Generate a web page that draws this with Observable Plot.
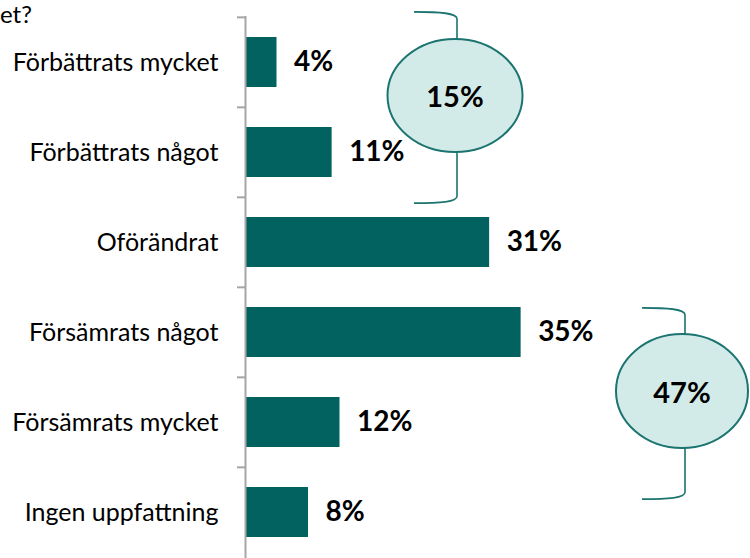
<!DOCTYPE html>
<html>
<head>
<meta charset="utf-8">
<script src="https://cdn.jsdelivr.net/npm/d3@7"></script>
<script src="https://cdn.jsdelivr.net/npm/@observablehq/plot@0.6"></script>
<style>
  html, body { margin: 0; padding: 0; background: #fff; }
  #chart svg { display: block; }
</style>
</head>
<body>
<div id="chart"></div>
<script>
const categories = ["Förbättrats mycket", "Förbättrats något", "Oförändrat", "Försämrats något", "Försämrats mycket", "Ingen uppfattning"];
const values = [4, 11, 31, 35, 12, 8];
const groupLabels = ["15%", "47%"];
const groupMembers = [["Förbättrats mycket", "Förbättrats något"], ["Försämrats något", "Försämrats mycket"]];
const titleTail = "et?";

const data = categories.map((c, i) => ({category: c, value: values[i]}));

const W = 750, H = 558, MT = 16;
const step = (H - MT) / categories.length;
const FONT = "Lato, 'Open Sans', sans-serif";

const plot = Plot.plot({
  width: W,
  height: H,
  marginLeft: 245,
  marginRight: 190,
  marginTop: MT,
  marginBottom: 0,
  style: {fontFamily: FONT, background: "#fff", color: "#000", overflow: "visible"},
  x: {domain: [0, 40], axis: null},
  y: {domain: categories, paddingInner: 0.45, paddingOuter: 0.225, label: null},
  marks: [
    Plot.barX(data, {x: "value", y: "category", fill: "#02625f"}),
    Plot.text(data, {x: "value", y: "category", text: d => d.value + "%", dx: 17, textAnchor: "start", fontWeight: "bold", fontSize: 28, fill: "#000"}),
    Plot.axisY({tickSize: 0, tickPadding: 27, fontSize: 25, fill: "#000", label: null}),
    Plot.axisY({tickSize: 8, text: null, dy: -step / 2, stroke: "#a6a6a6", strokeWidth: 2, label: null}),
    Plot.ruleX([0], {stroke: "#a6a6a6", strokeWidth: 2})
  ]
});

document.getElementById("chart").appendChild(plot);

// Annotations (brackets + ellipses), anchored to the band scale
const y = plot.scale("y");
const bw = y.bandwidth;
const svg = d3.select(plot);
const ann = svg.append("g");
const layout = [
  {bx: 457, hx: 414, topOff: -5, botOff: 6, cx: 455, cy: 95.5, rx: 67.5, ry: 56.5},
  {bx: 685, hx: 642, topOff: 21, botOff: 32, cx: 682, cy: 391, rx: 66, ry: 57}
];
const teal = "#1b7470";
groupMembers.forEach((members, i) => {
  const L = layout[i];
  const top = y.apply(members[0]) - (step - bw) / 2 + L.topOff;
  const bot = y.apply(members[members.length - 1]) + bw + (step - bw) / 2 + L.botOff;
  const eTop = L.cy - L.ry, eBot = L.cy + L.ry;
  ann.append("path")
    .attr("d", `M${L.hx},${top} C${L.hx + 26},${top} ${L.bx},${top + 1} ${L.bx},${top + 7} V${eTop}`)
    .attr("fill", "none").attr("stroke", teal).attr("stroke-width", 1.6);
  ann.append("path")
    .attr("d", `M${L.bx},${eBot} V${bot - 7} C${L.bx},${bot - 1} ${L.hx + 26},${bot} ${L.hx},${bot}`)
    .attr("fill", "none").attr("stroke", teal).attr("stroke-width", 1.6);
  ann.append("ellipse")
    .attr("cx", L.cx).attr("cy", L.cy).attr("rx", L.rx).attr("ry", L.ry)
    .attr("fill", "#d3ebe8").attr("stroke", teal).attr("stroke-width", 2);
  ann.append("text")
    .attr("x", L.cx).attr("y", L.cy)
    .attr("text-anchor", "middle").attr("dominant-baseline", "central")
    .attr("font-family", FONT).attr("font-size", 29).attr("font-weight", "bold")
    .attr("fill", "#000")
    .text(groupLabels[i]);
});

svg.append("text")
  .attr("x", 0).attr("y", 23)
  .attr("text-anchor", "start")
  .attr("font-family", FONT).attr("font-size", 24).attr("fill", "#000")
  .text(titleTail);
</script>
</body>
</html>
